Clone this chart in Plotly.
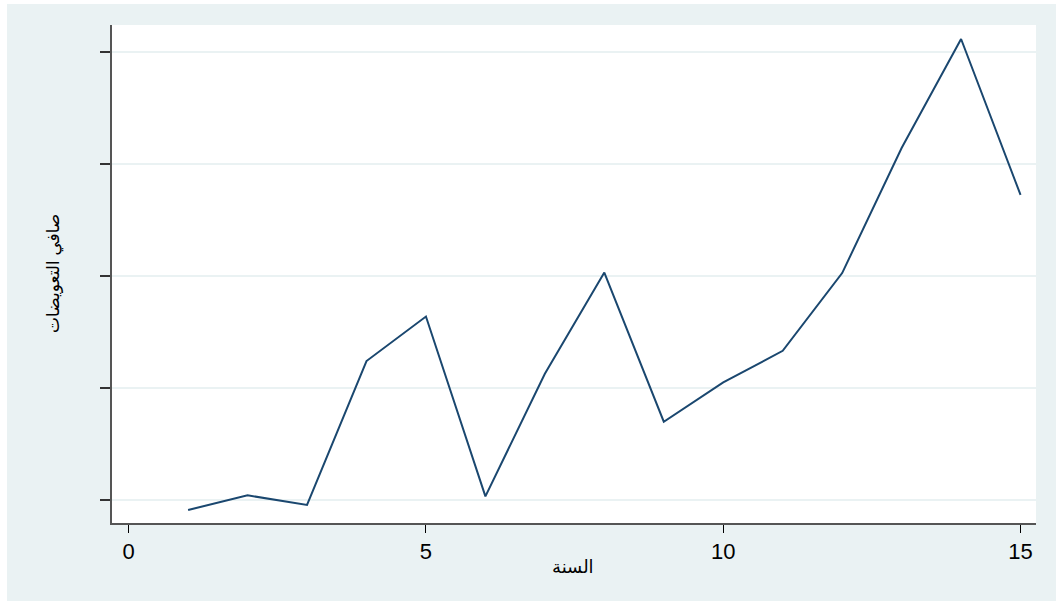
import plotly.graph_objects as go

# Year index and net compensation series
years = list(range(1, 16))
net_comp = [-86, 45, -41, 1244, 1641, 36, 1130, 2034, 702, 1053, 1335, 2029, 3146, 4119, 2727]

x_ticks = [0, 5, 10, 15]
x_tick_text = ["0", "5", "10", "15"]
y_ticks = [0, 1000, 2000, 3000, 4000]

BG = "#eaf2f3"
NAVY = "#1a476f"
FONT = "Liberation Sans, Arial, DejaVu Sans, sans-serif"

W, H = 1056, 601
ML, MR, MT, MB = 112, 20, 25, 78
PW, PH = W - ML - MR, H - MT - MB


def px_x(px):
    return (px - ML) / PW


def px_y(py):
    return (H - MB - py) / PH


fig = go.Figure()
fig.add_trace(go.Scatter(
    x=years, y=net_comp, mode="lines",
    line=dict(color=NAVY, width=2),
    hoverinfo="skip", showlegend=False,
))

fig.update_layout(
    width=W, height=H,
    margin=dict(l=ML, r=MR, t=MT, b=MB, pad=0),
    paper_bgcolor=BG, plot_bgcolor="white",
    font=dict(family=FONT, color="black"),
    xaxis=dict(
        range=[-0.28, 15.26], tickvals=x_ticks, ticktext=x_tick_text,
        ticks="outside", ticklen=8, tickwidth=1, tickcolor="black",
        tickfont=dict(size=22, family=FONT, color="black"),
        showline=True, linecolor="#555555", linewidth=1.5,
        showgrid=False, zeroline=False,
    ),
    yaxis=dict(
        range=[-202, 4244], tickvals=y_ticks, ticktext=[""] * len(y_ticks),
        ticks="outside", ticklen=10, tickwidth=1.5, tickcolor="#333333",
        showline=True, linecolor="#555555", linewidth=2,
        showgrid=True, gridcolor=BG, gridwidth=1.5, zeroline=False,
    ),
    shapes=[
        # thin white frame strips on the left and top edges
        dict(type="rect", xref="paper", yref="paper",
             x0=px_x(-5), x1=px_x(7), y0=px_y(H + 5), y1=px_y(-5),
             fillcolor="white", line=dict(width=0), layer="above"),
        dict(type="rect", xref="paper", yref="paper",
             x0=px_x(-5), x1=px_x(W + 5), y0=px_y(4), y1=px_y(-5),
             fillcolor="white", line=dict(width=0), layer="above"),
    ],
    annotations=[
        dict(text="السنة", xref="paper", yref="paper",
             x=px_x(573), y=px_y(567), xanchor="center", yanchor="middle",
             showarrow=False, font=dict(size=18, family=FONT, color="black")),
        dict(text="صافي التعويضات", xref="paper", yref="paper",
             x=px_x(54), y=0.5, xanchor="center", yanchor="middle",
             textangle=-90, showarrow=False,
             font=dict(size=17, family=FONT, color="black")),
    ],
)

fig.write_html("out.html")
